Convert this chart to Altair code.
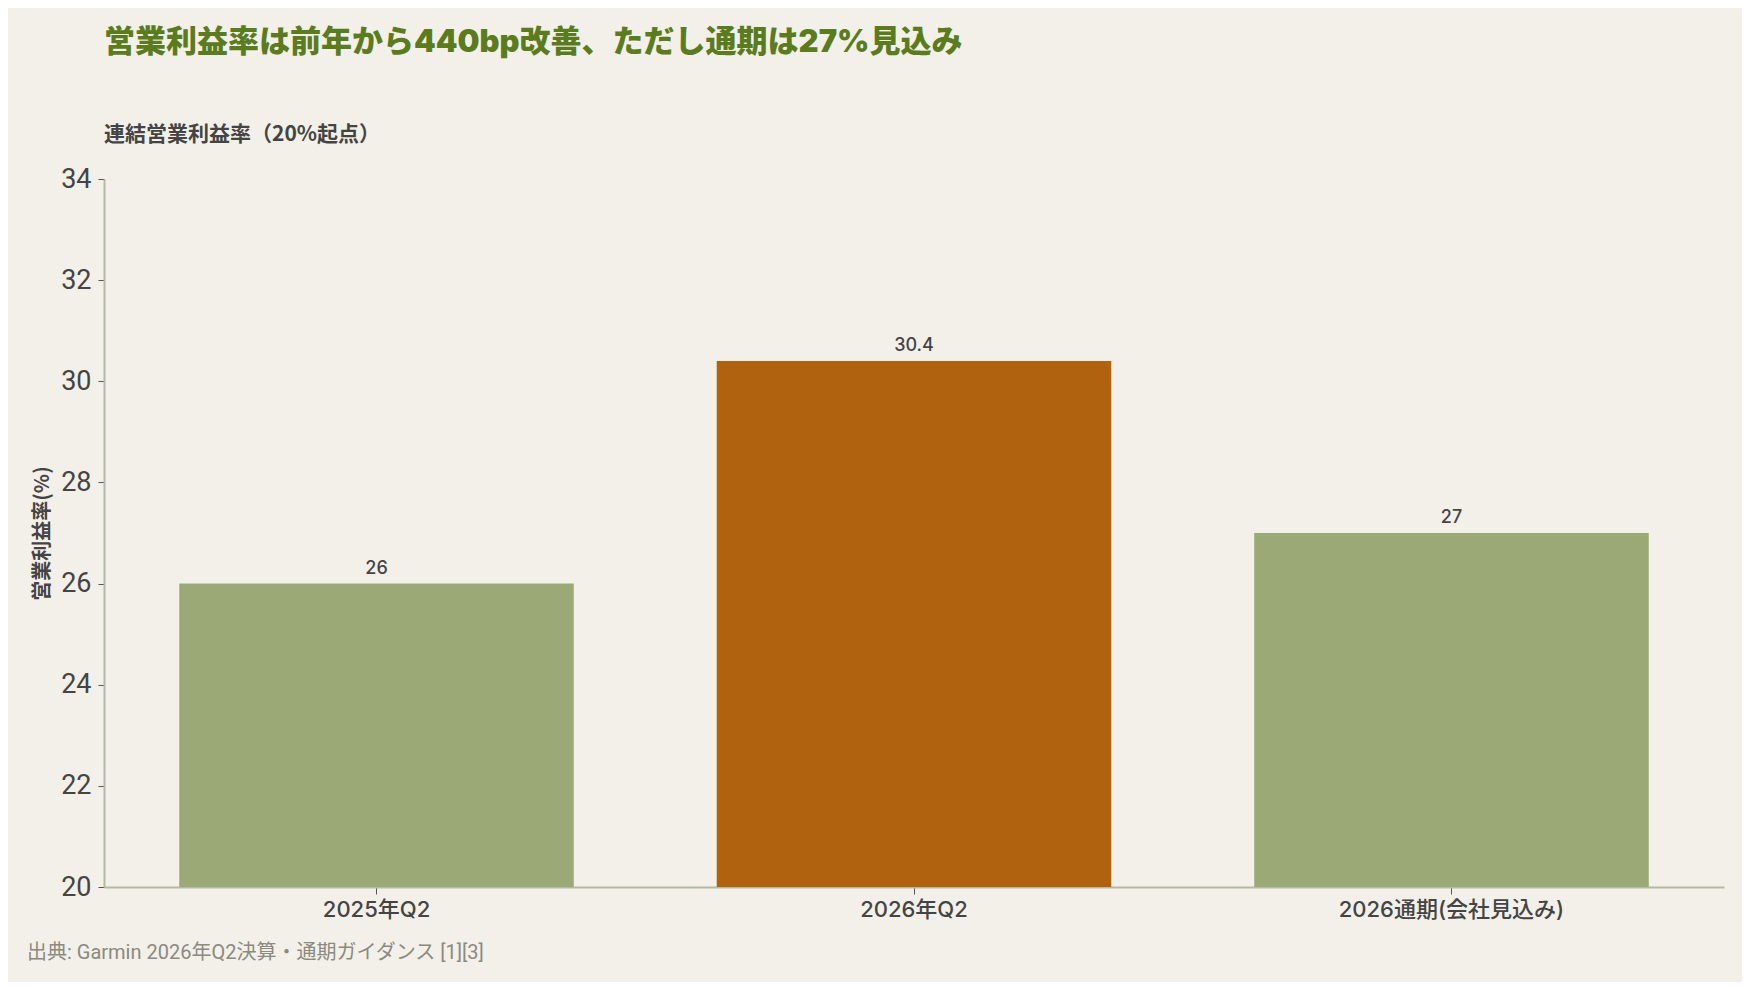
import altair as alt
import pandas as pd

categories = ["2025年Q2", "2026年Q2", "2026通期(会社見込み)"]
values = [26.0, 30.4, 27.0]
labels = ["26", "30.4", "27"]
highlight = ["base", "hi", "base"]
y_ticks = [20, 22, 24, 26, 28, 30, 32, 34]
y_floor = 20

df = pd.DataFrame({"cat": categories, "val": values, "lab": labels, "hl": highlight})

BG = "#F2F0E9"
W, H = 1620, 708

base = alt.Chart(df).encode(
    x=alt.X("cat:N", sort=categories, title=None,
            scale=alt.Scale(paddingInner=0.266, paddingOuter=0.14),
            axis=alt.Axis(labelAngle=0, labelFont="Inter, Noto Sans CJK JP", labelFontSize=22,
                          labelFontWeight=500, labelColor="#444444", labelLimit=0,
                          domainColor="#B3BAA3", domainWidth=2,
                          tickColor="#555555", tickSize=7, labelPadding=5))
)

bars = base.mark_bar().encode(
    y=alt.Y("val:Q", title="営業利益率(%)",
            scale=alt.Scale(domain=[20, 34], zero=False, nice=False),
            axis=alt.Axis(values=y_ticks, grid=False,
                          labelFont="Roboto", labelFontSize=27, labelColor="#444444",
                          domainColor="#B3BAA3", domainWidth=2,
                          tickColor="#555555", tickSize=6, labelPadding=7,
                          titleFont="Noto Sans CJK JP", titleFontSize=20,
                          titleFontWeight="bold", titleColor="#444444",
                          titlePadding=8)),
    y2=alt.datum(y_floor),
    color=alt.Color("hl:N", scale=alt.Scale(domain=["base", "hi"],
                                           range=["#9BA977", "#B0620E"]),
                    legend=None),
)

text = base.mark_text(baseline="bottom", dy=-6, font="Inter", fontSize=18,
                      fontWeight=500, color="#444444").encode(
    y=alt.Y("val:Q"),
    text="lab:N",
)

footer = alt.Chart(pd.DataFrame({"t": ["出典: Garmin 2026年Q2決算・通期ガイダンス [1][3]"]})).mark_text(
    align="left", baseline="middle", font="Roboto, Noto Sans CJK JP", fontSize=20, color="#8A8A80"
).encode(x=alt.value(-77), y=alt.value(H + 66), text="t:N")

chart = alt.layer(bars, text, footer).properties(
    width=W, height=H,
    background=BG,
    padding={"left": 96, "top": 171, "right": 18, "bottom": 95},
    autosize=alt.AutoSizeParams(type="none"),
    title=alt.TitleParams(
        text="営業利益率は前年から440bp改善、ただし通期は27%見込み",
        subtitle="連結営業利益率（20%起点）",
        anchor="start", frame="group", offset=19,
        font="Inter, Noto Sans CJK JP", fontSize=31, fontWeight=900, color="#5B7B1F",
        subtitleFont="Noto Sans CJK JP", subtitleFontSize=21, subtitleFontWeight="bold",
        subtitleColor="#444444", subtitlePadding=65,
    ),
).configure_view(stroke=None)

chart.save("out.html", embed_options={"renderer": "svg", "actions": False})
